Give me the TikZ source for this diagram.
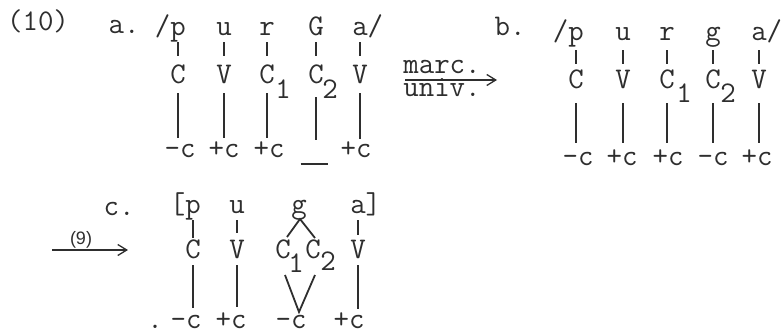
\documentclass[tikz,border=0pt]{standalone}
\usepackage{fontspec}
\newfontfamily\sansf{Liberation Sans}
\usetikzlibrary{calc,arrows.meta}
\definecolor{ink}{HTML}{2E2E2E}
\begin{document}
\begin{tikzpicture}[x=1pt,y=-1pt,
  txt/.style={inner sep=0pt,anchor=base,font=\fontsize{30}{32}\selectfont\ttfamily\addfontfeatures{FakeBold=1.5},text=ink},
  lbl/.style={inner sep=0pt,anchor=base,font=\fontsize{18}{20}\selectfont\sansf,text=ink},
  ln/.style={draw=ink,line width=1.8pt},
  arr/.style={draw=ink,line width=1.3pt,-{Straight Barb[length=9pt,width=11pt,line width=1.3pt]}}]
\useasboundingbox (0,0) rectangle (782,335);

% ---------------- (10) a. ----------------
\node[txt] (n10) at (38,30) {(10)};
\node[txt] (la) at (124,33) {a.};
% top row
\node[txt] (aT1) at (178,35) {\llap{/}p};
\node[txt] (aT2) at (224,35) {u};
\node[txt] (aT3) at (267,35) {r};
\node[txt] (aT4) at (316,35) {G};
\node[txt] (aT5) at (360,35) {a\rlap{/}};
% middle row
\node[txt] (aM1) at (178,83) {C};
\node[txt] (aM2) at (224,83) {V};
\node[txt] (aM3) at (267,83) {C};
\node[txt] (aM4) at (316,83) {C};
\node[txt] (aM5) at (360,83) {V};
\node[txt] (aS3) at (283,98) {1};
\node[txt] (aS4) at (330,98) {2};
% bottom row
\node[txt] (aB1) at (180,157) {-c};
\node[txt] (aB2) at (224,157) {+c};
\node[txt] (aB3) at (269,157) {+c};
\node[txt] (aB4) at (314,165) {\rule{27pt}{1.6pt}};
\node[txt] (aB5) at (356,157) {+c};
\foreach \i in {1,...,5}{
  \draw[ln] ([yshift=-7pt]aT\i.base) -- ([yshift=27pt]aM\i.base);
}
\foreach \i/\a/\b in {1/10/19,2/10/19,3/10/19,4/14/25,5/10/18}{
  \draw[ln] ([yshift=-\a pt]aM\i.base) -- ([yshift=\b pt]aM\i.base |- aB\i.base);
}

% ---------------- arrow marc./univ. ----------------
\coordinate (mu0) at (405,80);
\coordinate (mu1) at (497,80);
\draw[arr] (mu0) -- (mu1);
\node[txt] (marc) at (442,73) {marc.};
\node[txt] (univ) at (442,96) {univ.};

% ---------------- b. ----------------
\node[txt] (lb) at (510,35) {b.};
\node[txt] (bT1) at (576,40) {\llap{/}p};
\node[txt] (bT2) at (623,40) {u};
\node[txt] (bT3) at (667,40) {r};
\node[txt] (bT4) at (713,40) {g};
\node[txt] (bT5) at (759,40) {a\rlap{/}};
\node[txt] (bM1) at (576,88) {C};
\node[txt] (bM2) at (623,88) {V};
\node[txt] (bM3) at (667,88) {C};
\node[txt] (bM4) at (713,88) {C};
\node[txt] (bM5) at (759,88) {V};
\node[txt] (bS3) at (684,102) {1};
\node[txt] (bS4) at (728,102) {2};
\node[txt] (bB1) at (578,165) {-c};
\node[txt] (bB2) at (622,165) {+c};
\node[txt] (bB3) at (668,165) {+c};
\node[txt] (bB4) at (713,165) {-c};
\node[txt] (bB5) at (757,165) {+c};
\foreach \i in {1,...,5}{
  \draw[ln] ([yshift=-10pt]bT\i.base) -- ([yshift=24pt]bM\i.base);
  \draw[ln] ([yshift=-15pt]bM\i.base) -- ([yshift=22pt]bM\i.base |- bB\i.base);
}

% ---------------- arrow (9) ----------------
\coordinate (nn0) at (52,250);
\coordinate (nn1) at (128,250);
\draw[arr] (nn0) -- (nn1);
\node[lbl] (n9) at (81,244) {(9)};

% ---------------- c. ----------------
\node[txt] (lc) at (119,215) {c.};
\node[txt] (cT1) at (193,213) {\llap{[}p};
\node[txt] (cT2) at (237,213) {u};
\node[txt] (cT3) at (299,213) {g};
\node[txt] (cT4) at (358,213) {a\rlap{]}};
\node[txt] (cM1) at (193,258) {C};
\node[txt] (cM2) at (237,258) {V};
\node[txt] (cM3a) at (283,258) {C};
\node[txt] (cM3b) at (313,258) {C};
\node[txt] (cM4) at (358,258) {V};
\node[txt] (cS1) at (296,272) {1};
\node[txt] (cS2) at (328,270) {2};
\node[txt] (cdot) at (155,328) {.};
\node[txt] (cB1) at (186,328) {-c};
\node[txt] (cB2) at (231,328) {+c};
\node[txt] (cB3) at (291,328) {-c};
\node[txt] (cB4) at (349,328) {+c};
% short lines
\draw[ln] ([yshift=-7pt]cT1.base) -- ([yshift=20pt]cM1.base);
\draw[ln] ([yshift=-7pt]cT2.base) -- ([yshift=25pt]cM2.base);
\draw[ln] ([yshift=-7pt]cT4.base) -- ([yshift=23pt]cM4.base);
\draw[ln] ([shift={(4pt,21pt)}]cM3a.base) -- ([shift={(1pt,-6pt)}]cT3.base) -- ([shift={(2pt,20pt)}]cM3b.base);
% long lines
\draw[ln] ([yshift=-7pt]cM1.base) -- ([yshift=20pt]cM1.base |- cB1.base);
\draw[ln] ([yshift=-7pt]cM2.base) -- ([yshift=21pt]cM2.base |- cB2.base);
\draw[ln] ([yshift=-7pt]cM4.base) -- ([yshift=19pt]cM4.base |- cB4.base);
\draw[ln] ([shift={(2pt,-17pt)}]cM3a.base) -- ([yshift=16pt]cT3.base |- cB3.base) -- ([shift={(2pt,-17pt)}]cM3b.base);
\end{tikzpicture}
\end{document}
